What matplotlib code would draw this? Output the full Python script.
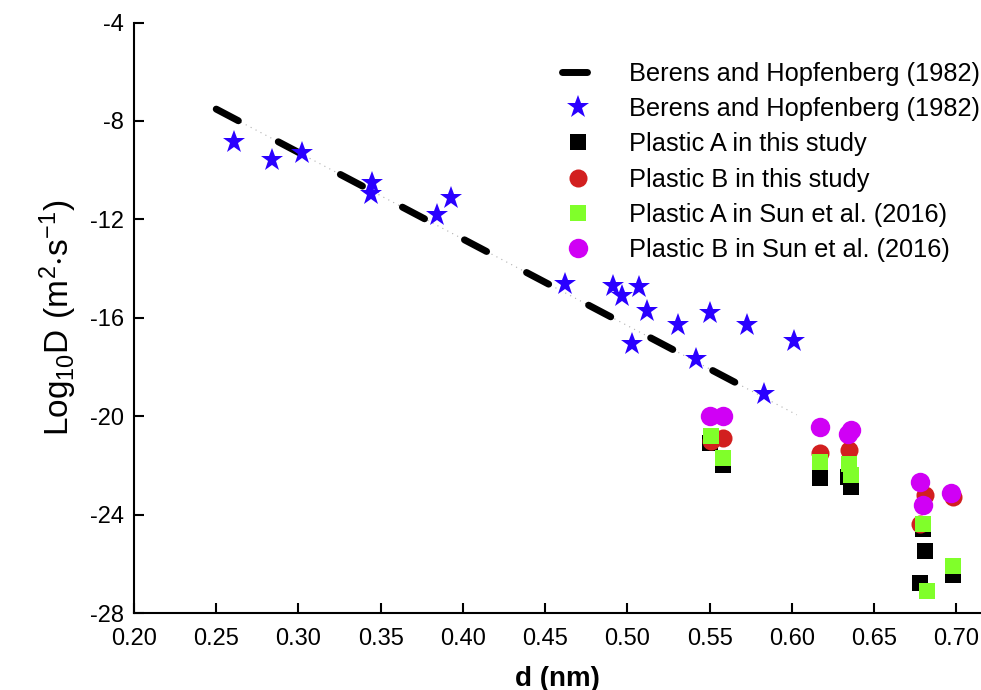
import numpy as np
import matplotlib
matplotlib.use("Agg")
import matplotlib.pyplot as plt

plt.rcParams["font.family"] = ["Liberation Sans", "DejaVu Sans"]
plt.rcParams["mathtext.fontset"] = "custom"
plt.rcParams["mathtext.rm"] = "Liberation Sans"
plt.rcParams["axes.unicode_minus"] = False

# Berens and Hopfenberg (1982) data points
bh_d = [0.261, 0.284, 0.302, 0.345, 0.344, 0.384, 0.393, 0.462, 0.491, 0.497,
        0.507, 0.512, 0.531, 0.550, 0.573, 0.601, 0.503, 0.542, 0.583]
bh_logD = [-8.86, -9.59, -9.31, -10.53, -10.98, -11.83, -11.14, -14.64, -14.72, -15.13,
           -14.76, -15.74, -16.31, -15.82, -16.31, -16.96, -17.08, -17.69, -19.11]

# linear fit (dashed line) and its extension
fit_a, fit_b = 1.28, -35.2
fit_range = [0.25, 0.568]
ext_range = [0.25, 0.603]

# Plastic A in this study
a_d = [0.550, 0.558, 0.617, 0.634, 0.636, 0.680, 0.681, 0.678, 0.698]
a_logD = [-21.1, -22.0, -22.5, -22.48, -22.86, -24.6, -25.5, -26.8, -26.46]

# Plastic B in this study
b_d = [0.551, 0.558, 0.617, 0.635, 0.681, 0.678, 0.698]
b_logD = [-21.0, -20.9, -21.5, -21.39, -23.2, -24.4, -23.3]

# Plastic A in Sun et al. (2016)
sa_d = [0.551, 0.558, 0.617, 0.635, 0.636, 0.680, 0.682, 0.698]
sa_logD = [-20.8, -21.7, -21.87, -21.93, -22.41, -24.4, -27.1, -26.1]

# Plastic B in Sun et al. (2016)
sb_d = [0.550, 0.558, 0.617, 0.636, 0.634, 0.678, 0.680, 0.697]
sb_logD = [-20.0, -20.0, -20.42, -20.55, -20.71, -22.69, -23.6, -23.14]

fig = plt.figure(figsize=(9.81, 6.9), dpi=100)
ax = fig.add_axes([134 / 981, 1 - 613 / 690, (981 - 134) / 981, (613 - 22.5) / 690])

xe = np.array(ext_range)
ax.plot(xe, fit_a + fit_b * xe, color="#b0b0b0", lw=0.8, ls=(0, (1, 4)), zorder=1)
xf = np.array(fit_range)
ax.plot(xf, fit_a + fit_b * xf, color="black", lw=5, dashes=(3.6, 6.5),
        dash_capstyle="round", solid_capstyle="round", zorder=2,
        label="Berens and Hopfenberg (1982)")
ax.plot(bh_d, bh_logD, ls="none", marker="*", ms=17, color="#2a00ff", mew=0,
        zorder=3, label="Berens and Hopfenberg (1982)")
ax.plot(a_d, a_logD, ls="none", marker="s", ms=12, color="black", mew=0,
        zorder=4, label="Plastic A in this study")
ax.plot(b_d, b_logD, ls="none", marker="o", ms=13, color="#d21f1f", mew=0,
        zorder=5, label="Plastic B in this study")
ax.plot(sa_d, sa_logD, ls="none", marker="s", ms=12, color="#80ff2a", mew=0,
        zorder=6, label="Plastic A in Sun et al. (2016)")
ax.plot(sb_d, sb_logD, ls="none", marker="o", ms=14, color="#d000f5", mew=0,
        zorder=7, label="Plastic B in Sun et al. (2016)")

ax.set_xlim(0.2, 0.715)
ax.set_ylim(-28, -4)
ax.set_xticks(np.arange(0.20, 0.701, 0.05))
ax.set_xticklabels([f"{t:.2f}" for t in np.arange(0.20, 0.701, 0.05)])
ax.set_yticks(range(-28, -3, 4))
ax.tick_params(direction="in", length=7.2, width=1.5, labelsize=17)
ax.tick_params(axis="x", pad=11)
ax.tick_params(axis="y", pad=7)
for s in ["top", "right"]:
    ax.spines[s].set_visible(False)
for s in ["left", "bottom"]:
    ax.spines[s].set_linewidth(1.5)

ax.set_xlabel("d (nm)", fontsize=20, fontweight="bold", labelpad=11)
ax.set_ylabel(r"$\mathregular{Log_{10}D\ (m^{2}{\cdot}s^{-1})}$", fontsize=24, labelpad=8)

ax.legend(loc="upper left", bbox_to_anchor=(562 / 981, 1 - 62 / 690),
          bbox_transform=fig.transFigure, frameon=False, fontsize=18.3,
          handlelength=1.25, handletextpad=1.4, labelspacing=0.44,
          borderpad=0, borderaxespad=0)

fig.savefig("out.png", dpi=100)
